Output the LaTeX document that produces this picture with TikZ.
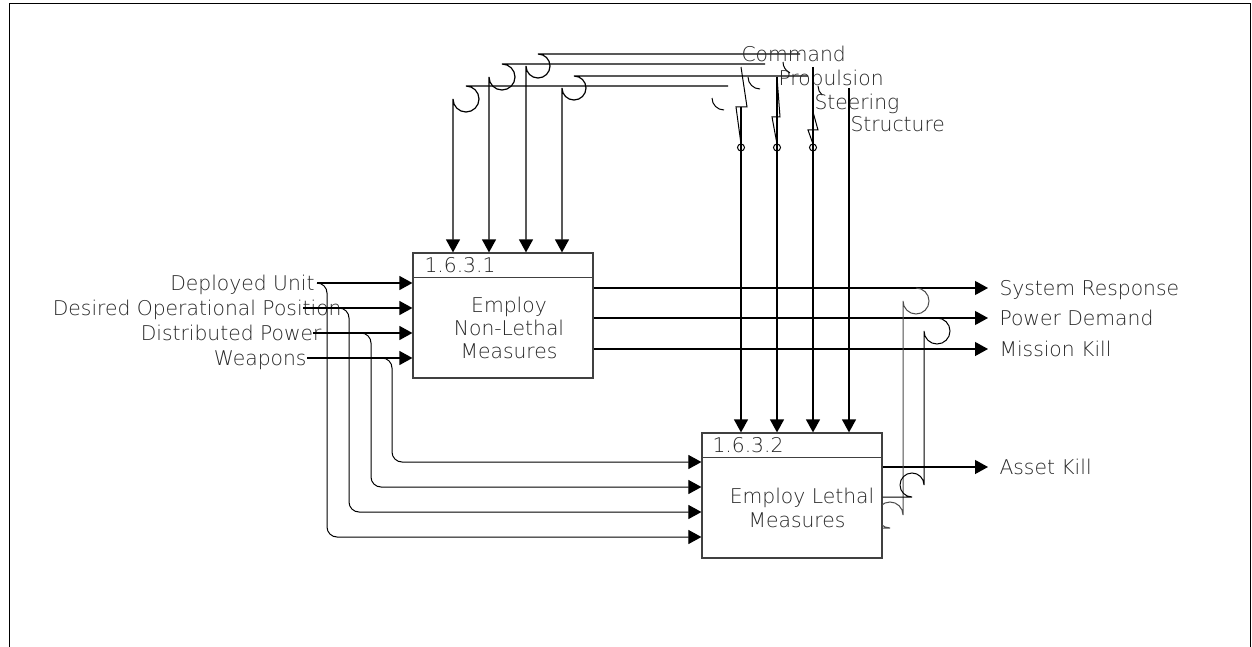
\documentclass[tikz,border=0pt]{standalone}
\usepackage{fontspec}
\setmainfont{DejaVu Sans ExtraLight}
\usetikzlibrary{arrows.meta}

\begin{document}
\begin{tikzpicture}[x=1pt, y=-1pt, line width=1pt,
  flow/.style={line width=1.2pt, -{Triangle[length=13pt, width=14pt]}},
  branch/.style={flow, line width=1pt, rounded corners=10pt},
  lbl/.style={font=\fontsize{20.3}{24}\selectfont, inner sep=0pt, text=black!85},
  fbox/.style={draw=black!75, fill=white, line width=1.2pt, minimum width=180pt,
    minimum height=125pt, inner sep=0pt}]
  \useasboundingbox (0,0) rectangle (1252,647);
  \draw[line width=0.8pt] (9,647) -- (9,3) -- (1250,3) -- (1250,647);

  % activity boxes
  \node[fbox] (box1) at (503,315.5) {};
  \node[fbox] (box2) at (792,495.5) {};
  \draw[draw=black!75, line width=1.2pt] ([yshift=-25pt]box1.north west) -- ([yshift=-25pt]box1.north east);
  \draw[draw=black!75, line width=1.2pt] ([yshift=-25pt]box2.north west) -- ([yshift=-25pt]box2.north east);
  \node[lbl, anchor=base west] (id1) at (424,272) {1.6.3.1};
  \node[lbl, anchor=base west] (id2) at (712,452) {1.6.3.2};
  \node[lbl, anchor=base] (t1a) at (509,312) {Employ};
  \node[lbl, anchor=base] (t1b) at (509,335) {Non-Lethal};
  \node[lbl, anchor=base] (t1c) at (509,358) {Measures};
  \node[lbl, anchor=base] (t2a) at (802,503) {Employ Lethal};
  \node[lbl, anchor=base] (t2b) at (797,527) {Measures};

  % inputs
  \coordinate (du) at (317,283);
  \coordinate (dop) at (303,308);
  \coordinate (dp) at (313,333);
  \coordinate (wp) at (307,358);
  \node[lbl, anchor=base east] (ldu) at (315,290) {Deployed Unit};
  \node[lbl, anchor=base east] (ldop) at (342,315) {Desired Operational Position};
  \node[lbl, anchor=base east] (ldp) at (322,340) {Distributed Power};
  \node[lbl, anchor=base east] (lwp) at (307,365) {Weapons};
  \foreach \p in {du,dop,dp,wp}
    \draw[flow] (\p) -- (\p -| box1.west);
  \coordinate (bdu) at (327,537);
  \coordinate (bdop) at (349,512);
  \coordinate (bdp) at (371,487);
  \coordinate (bwp) at (392,462);
  \draw[branch] (du) -| (bdu) -- (bdu -| box2.west);
  \draw[branch] (dop) -| (bdop) -- (bdop -| box2.west);
  \draw[branch] (dp) -| (bdp) -- (bdp -| box2.west);
  \draw[branch] (wp) -| (bwp) -- (bwp -| box2.west);

  % controls of 1.6.3.1
  \coordinate (ca) at (800,54);
  \coordinate (cb) at (765,64);
  \coordinate (cc) at (808,76);
  \coordinate (cd) at (728,86);
  \coordinate (ka) at (526,66);
  \coordinate (kb) at (489,77);
  \coordinate (kc) at (562,88);
  \coordinate (kd) at (453,99);
  \draw[flow] (ca) -- (538,54) arc[start angle=-90, end angle=180, radius=12] -- (ka |- box1.north);
  \draw[flow] (cb) -- (502,64) arc[start angle=-90, end angle=180, radius=13] -- (kb |- box1.north);
  \draw[flow] (cc) -- (574,76) arc[start angle=-90, end angle=180, radius=12] -- (kc |- box1.north);
  \draw[flow] (cd) -- (466,86) arc[start angle=-90, end angle=180, radius=13] -- (kd |- box1.north);
  \draw (712,98) arc[start angle=180, end angle=90, radius=12];
  \draw (748,77) arc[start angle=180, end angle=90, radius=12];
  \draw (783,62) arc[start angle=180, end angle=115, radius=12];
  \draw (818,86) arc[start angle=180, end angle=130, radius=12];

  % controls of 1.6.3.2
  \node[lbl, anchor=base west] (lcmd) at (741,62) {Command};
  \node[lbl, anchor=base west] (lpro) at (778,86) {Propulsion};
  \node[lbl, anchor=base west] (lste) at (814,110) {Steering};
  \node[lbl, anchor=base west] (lstr) at (850,132) {Structure};
  \coordinate (scmd) at (741,107);
  \coordinate (spro) at (777,77);
  \coordinate (sste) at (813,67);
  \coordinate (sstr) at (849,88);
  \draw (741,67) -- (747,107) -- (736,107) -- (741,144);
  \draw (777,77) -- (780,117) -- (772,117) -- (777,144);
  \draw (813,112) -- (818,130) -- (808,130) -- (813,144);
  \foreach \x in {741,777,813}
    \draw (\x,147.5) circle[radius=3.5];
  \foreach \p in {scmd,spro,sste,sstr}
    \draw[flow] (\p) -- (\p |- box2.north);

  % outputs
  \coordinate (sr) at (988,288);
  \coordinate (pd) at (988,318);
  \coordinate (mk) at (988,349);
  \coordinate (ak) at (988,467);
  \foreach \p in {sr,pd,mk}
    \draw[flow] (\p -| box1.east) -- (\p);
  \draw[flow] (ak -| box2.east) -- (ak);
  \node[lbl, anchor=base west] (lsr) at (999,295) {System Response};
  \node[lbl, anchor=base west] (lpd) at (999,325) {Power Demand};
  \node[lbl, anchor=base west] (lmk) at (999,356) {Mission Kill};
  \node[lbl, anchor=base west] (lak) at (999,474) {Asset Kill};

  % feedback from 1.6.3.2
  \coordinate (fa) at (890,528);
  \coordinate (fb) at (912,497);
  \begin{scope}
    \clip (882,0) rectangle (1252,647);
    \draw[black!70] (fa -| box2.east) -- (fa) arc[start angle=90, end angle=360, radius=13]
      -- (903,301) arc[start angle=180, end angle=-90, radius=13];
    \draw (fb -| box2.east) -- (fb) arc[start angle=90, end angle=360, radius=12]
      -- (924,331) arc[start angle=180, end angle=-90, radius=13];
  \end{scope}
\end{tikzpicture}
\end{document}
